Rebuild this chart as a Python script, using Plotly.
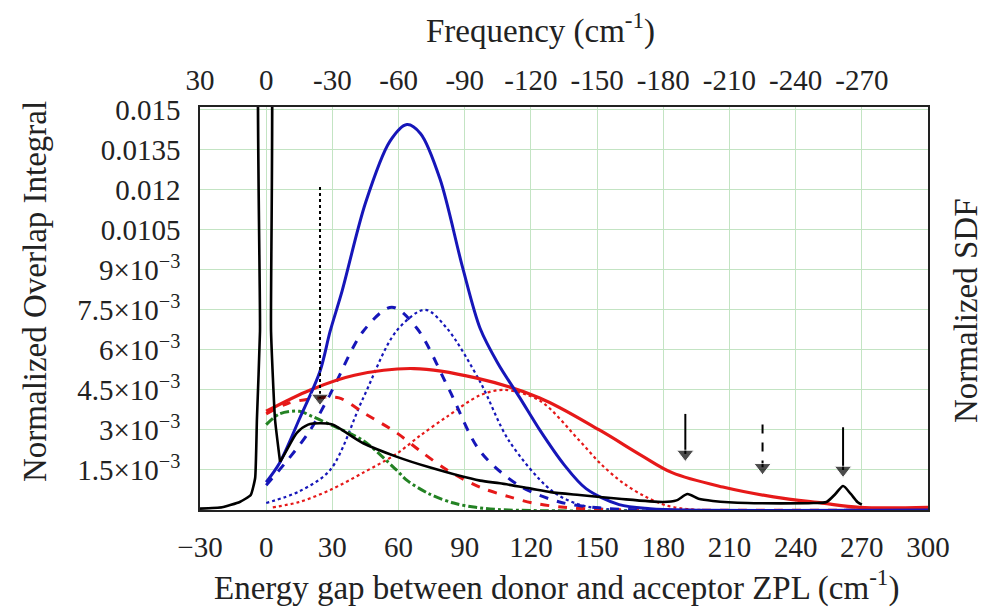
import plotly.graph_objects as go

FONT = "Liberation Serif"

# ---------------- data ----------------
bottom_ticks = [-30, 0, 30, 60, 90, 120, 150, 180, 210, 240, 270, 300]
bottom_labels = ["\u221230", "0", "30", "60", "90", "120", "150", "180", "210", "240", "270", "300"]
top_ticks = [30, 0, -30, -60, -90, -120, -150, -180, -210, -240, -270]
top_labels = ["30", "0", "-30", "-60", "-90", "-120", "-150", "-180", "-210", "-240", "-270"]
y_ticks = [0.0015, 0.003, 0.0045, 0.006, 0.0075, 0.009, 0.0105, 0.012, 0.0135, 0.015]
y_labels = ["1.5\u00d710<sup>\u22123</sup>", "3\u00d710<sup>\u22123</sup>", "4.5\u00d710<sup>\u22123</sup>",
            "6\u00d710<sup>\u22123</sup>", "7.5\u00d710<sup>\u22123</sup>", "9\u00d710<sup>\u22123</sup>",
            "0.0105", "0.012", "0.0135", "0.015"]

# Normalized SDF (black): ZPL spike part and phonon wing part
zpl_x = [-30, -20, -12, -7, -5, -4.2, -2.8, -2.5, 1.3, 2.2, 4, 6.3]
zpl_y = [0.00005, 0.0001, 0.0003, 0.00056, 0.0012, 0.0034, 0.0067, 0.02, 0.02, 0.0067, 0.0034, 0.0018]
sdf_x = [6.3, 9, 14, 19, 24.4, 30, 44, 59, 74, 97, 106, 120, 129, 142, 160, 180, 186, 191, 196,
         202.5, 218, 248, 254, 258, 261.5, 265, 268, 270]
sdf_y = [0.0018, 0.0022, 0.0029, 0.0032, 0.00325, 0.0032, 0.0025, 0.002, 0.0016, 0.0011, 0.001,
         0.0008, 0.00067, 0.00056, 0.00042, 0.0003, 0.00036, 0.0006, 0.00042, 0.00034, 0.00026,
         0.00026, 0.0003, 0.0006, 0.0009, 0.0006, 0.0003, 0.0002]

# Blue solid
bs_x = [0, 6, 15, 24.4, 29, 34.4, 45, 56, 63.8, 70, 78.8, 89, 97, 105, 115, 124, 135, 145, 160, 174, 190, 300]
bs_y = [0.00104, 0.00175, 0.0034, 0.0052, 0.0067, 0.0082, 0.0115, 0.0138, 0.01444, 0.0141, 0.0124, 0.0091,
        0.0068, 0.0055, 0.0042, 0.003, 0.0017, 0.0008, 0.0002, 0.00005, 0.0, 0.0]

# Blue dashed
bd_x = [0, 10, 20, 30, 44, 57, 68.4, 83, 97, 115, 133, 151, 170, 300]
bd_y = [0.00093, 0.0019, 0.003, 0.0045, 0.0067, 0.0076, 0.0068, 0.0045, 0.0022, 0.0009, 0.0003, 0.00008, 0.0, 0.0]

# Blue dotted
bt_x = [0, 15, 29, 44, 59, 72, 82, 97, 110, 129, 142, 160, 300]
bt_y = [0.00026, 0.0007, 0.0015, 0.0042, 0.0067, 0.0075, 0.0068, 0.0048, 0.0026, 0.00075, 0.0002, 0.0, 0.0]

# Red solid
rs_x = [0, 20, 40, 67, 95, 124, 151, 170, 184, 207, 230, 252, 269, 300]
rs_y = [0.0037, 0.0045, 0.00505, 0.0053, 0.00495, 0.0042, 0.003, 0.00205, 0.0014,
        0.00086, 0.00049, 0.00026, 0.0001, 0.0001]

# Red dashed
rd_x = [0, 10, 24, 33, 45, 59, 70, 82, 97, 110, 121, 135, 150, 170, 300]
rd_y = [0.0036, 0.004, 0.0042, 0.0042, 0.0036, 0.0029, 0.0022, 0.0015, 0.00085, 0.0005, 0.00026, 0.0001,
        0.00003, 0.0, 0.0]

# Red dotted
rt_x = [3, 15, 29, 44, 59, 70, 82, 97, 108, 124, 142, 152, 162, 172, 185, 300]
rt_y = [0.0001, 0.0003, 0.00075, 0.0014, 0.0021, 0.0028, 0.0035, 0.0043, 0.0045, 0.0041, 0.0026, 0.0017,
        0.001, 0.0005, 0.0001, 0.0]

# Green dash-dot
g_x = [0, 6, 15, 21, 29, 44, 59, 64, 74, 85, 95, 110, 300]
g_y = [0.0032, 0.0036, 0.0037, 0.0035, 0.0032, 0.0026, 0.0015, 0.0011, 0.0006, 0.00026, 0.0001, 0.0, 0.0]

# Arrows: x, y_start, y_end, style
arrow_x = [24.4, 190, 225, 261.5]
arrow_y0 = [0.0121, 0.0036, 0.0032, 0.0031]
arrow_y1 = [0.0042, 0.0021, 0.0016, 0.0015]
arrow_dash = ["dot", "solid", "dash", "solid"]

# ---------------- figure ----------------
fig = go.Figure()

BLUE = "rgb(22,22,185)"
RED = "rgb(230,25,25)"
GREEN = "rgb(35,130,35)"

def add(x, y, color, width, dash, shape="spline", smoothing=0.9):
    fig.add_trace(go.Scatter(x=x, y=y, mode="lines",
                             line=dict(color=color, width=width, dash=dash, shape=shape,
                                       smoothing=smoothing),
                             hoverinfo="skip"))

add(rt_x, rt_y, RED, 2.2, "dot")
add(bt_x, bt_y, BLUE, 2.2, "dot")
add(g_x, g_y, GREEN, 3, "dashdot")
add(rd_x, rd_y, RED, 3, "dash")
add(bd_x, bd_y, BLUE, 3, "dash")
add(rs_x, rs_y, RED, 3.2, "solid", smoothing=1.0)
add(bs_x, bs_y, BLUE, 3, "solid")
add(zpl_x, zpl_y, "black", 2.6, "solid", smoothing=0.4)
add(sdf_x, sdf_y, "black", 2.6, "solid", smoothing=0.7)

for ax, y0, y1, d in zip(arrow_x, arrow_y0, arrow_y1, arrow_dash):
    fig.add_trace(go.Scatter(x=[ax, ax], y=[y0, y1], mode="lines+markers",
                             line=dict(color="black", width=2, dash=d),
                             marker=dict(symbol="triangle-down", size=[0, 15], color="black"),
                             hoverinfo="skip"))

# invisible trace to activate the top axis
fig.add_trace(go.Scatter(x=[0], y=[0], xaxis="x2", mode="markers", marker=dict(opacity=0),
                         hoverinfo="skip"))

GRID = "rgb(195,228,195)"
fig.update_layout(
    width=983, height=608,
    margin=dict(l=200, r=55, t=107, b=98),
    plot_bgcolor="white", paper_bgcolor="white",
    showlegend=False,
    font=dict(family=FONT, size=29, color="#222"),
    xaxis=dict(range=[-30, 300], tickmode="array", tickvals=bottom_ticks, ticktext=bottom_labels,
               showgrid=True, gridcolor=GRID, gridwidth=1, zeroline=False,
               showline=True, linecolor="#222", linewidth=1.5, mirror=True, ticks="",
               ticklabelstandoff=10),
    xaxis2=dict(range=[30, -300], overlaying="x", side="top", tickmode="array",
                tickvals=top_ticks, ticktext=top_labels, showgrid=False, zeroline=False,
                showline=False, ticks="", ticklabelstandoff=10),
    yaxis=dict(range=[0, 0.0151], tickmode="array", tickvals=y_ticks, ticktext=y_labels,
               showgrid=True, gridcolor=GRID, gridwidth=1, zeroline=False,
               showline=True, linecolor="#222", linewidth=1.5, mirror=True, ticks="",
               ticklabelstandoff=12),
)

TS = 33
fig.add_annotation(text="Normalized Overlap Integral", xref="paper", yref="paper",
                   x=(35 - 200) / 728, y=(510 - 292) / 403, textangle=-90, showarrow=False,
                   xanchor="center", yanchor="middle", font=dict(size=TS, family=FONT, color="#222"))
fig.add_annotation(text="Normalized SDF", xref="paper", yref="paper",
                   x=(966 - 200) / 728, y=(510 - 311) / 403, textangle=-90, showarrow=False,
                   xanchor="center", yanchor="middle", font=dict(size=TS, family=FONT, color="#222"))
fig.add_annotation(text="Frequency (cm<sup>-1</sup>)", xref="paper", yref="paper",
                   x=(540 - 200) / 728, y=(510 - 28) / 403, showarrow=False,
                   xanchor="center", yanchor="middle", font=dict(size=TS, family=FONT, color="#222"))
fig.add_annotation(text="Energy gap between donor and acceptor ZPL (cm<sup>-1</sup>)", xref="paper",
                   yref="paper", x=(556 - 200) / 728, y=(510 - 585) / 403, showarrow=False,
                   xanchor="center", yanchor="middle", font=dict(size=TS, family=FONT, color="#222"))

fig.write_html("out.html")
